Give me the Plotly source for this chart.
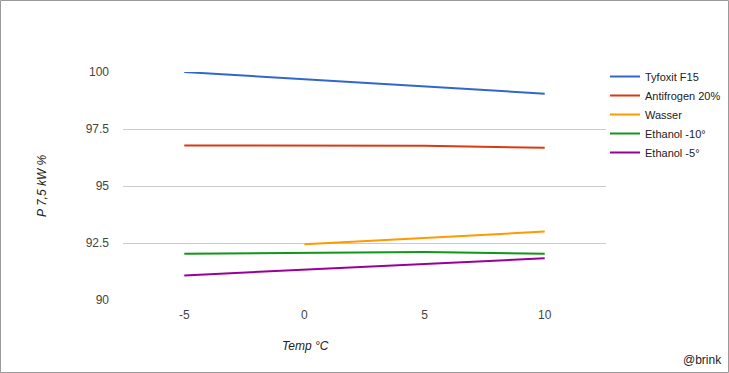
import plotly.graph_objects as go

temps = [-5, 0, 5, 10]
series_names = ["Tyfoxit F15", "Antifrogen 20%", "Wasser", "Ethanol -10°", "Ethanol -5°"]
tyfoxit = [100.0, 99.68, 99.36, 99.05]
antifrogen = [96.78, 96.78, 96.76, 96.68]
wasser = [None, 92.44, 92.72, 93.0]
ethanol10 = [92.03, 92.06, 92.1, 92.03]
ethanol5 = [91.08, 91.33, 91.58, 91.83]
colors = ["#3366cc", "#dc3912", "#ff9900", "#109618", "#990099"]
x_ticks = [-5, 0, 5, 10]
x_tick_labels = ["-5", "0", "5", "10"]
y_ticks = [90, 92.5, 95, 97.5, 100]
y_tick_labels = ["90", "92.5", "95", "97.5", "100"]

W, H = 729, 373
L, R, T, B = 123, 123, 72, 73
pw = W - L - R
ph = H - T - B

FONT = "Arial, Liberation Sans, sans-serif"

fig = go.Figure()
for name, ys, c in zip(series_names, [tyfoxit, antifrogen, wasser, ethanol10, ethanol5], colors):
    fig.add_trace(go.Scatter(x=temps, y=ys, mode="lines", name=name,
                             line=dict(color=c, width=2), connectgaps=False))

fig.update_layout(
    width=W, height=H,
    margin=dict(l=L, r=R, t=T, b=B, pad=0, autoexpand=False),
    paper_bgcolor="white", plot_bgcolor="white",
    font=dict(family=FONT, size=12, color="#444"),
    showlegend=True,
    legend=dict(x=1 - 1 / pw, xanchor="left", y=1 + 10 / ph, yanchor="top",
                font=dict(family=FONT, size=11, color="#222"),
                bgcolor="rgba(0,0,0,0)", tracegroupgap=0, itemwidth=30),
    xaxis=dict(range=[-7.55, 12.55], tickvals=x_ticks, ticktext=x_tick_labels,
               showgrid=False, zeroline=False, automargin=False,
               showline=False, ticks="", tickfont=dict(size=12, color="#444"),
               ticklabelstandoff=6, fixedrange=True),
    yaxis=dict(range=[90, 100], tickvals=y_ticks, ticktext=y_tick_labels, showgrid=True,
               gridcolor="#cccccc", gridwidth=1, zeroline=False, showline=False, ticks="",
               automargin=False,
               tickfont=dict(size=12, color="#444"), ticklabelstandoff=13, fixedrange=True),
    annotations=[
        dict(text="<i>Temp °C</i>", xref="paper", yref="paper",
             x=(305 - L) / pw, y=-(346 - (T + ph)) / ph, showarrow=False,
             xanchor="center", yanchor="middle", font=dict(size=12, color="#222")),
        dict(text="<i>P 7,5 kW %</i>", xref="paper", yref="paper",
             x=-(L - 42) / pw, y=1 - (186 - T) / ph, showarrow=False, textangle=-90,
             xanchor="center", yanchor="middle", font=dict(size=12, color="#222")),
        dict(text="@brink", xref="paper", yref="paper",
             x=(724 - L) / pw, y=-(360 - (T + ph)) / ph, showarrow=False,
             xanchor="right", yanchor="middle", font=dict(size=12, color="#222")),
    ],
    shapes=[
        dict(type="rect", xref="paper", yref="paper",
             x0=-(L - 0.5) / pw, x1=1 + (R - 0.5) / pw,
             y0=-(B - 0.5) / ph, y1=1 + (T - 0.5) / ph,
             line=dict(color="#9a9a9a", width=1), fillcolor="rgba(0,0,0,0)", layer="below"),
    ],
)

post = (
    "document.documentElement.style.overflow='hidden';"
    "document.body.style.margin='0';document.body.style.padding='0';"
    "document.body.style.overflow='hidden';"
)
fig.write_html("out.html",
               config={"responsive": False, "displayModeBar": False},
               post_script=post)
